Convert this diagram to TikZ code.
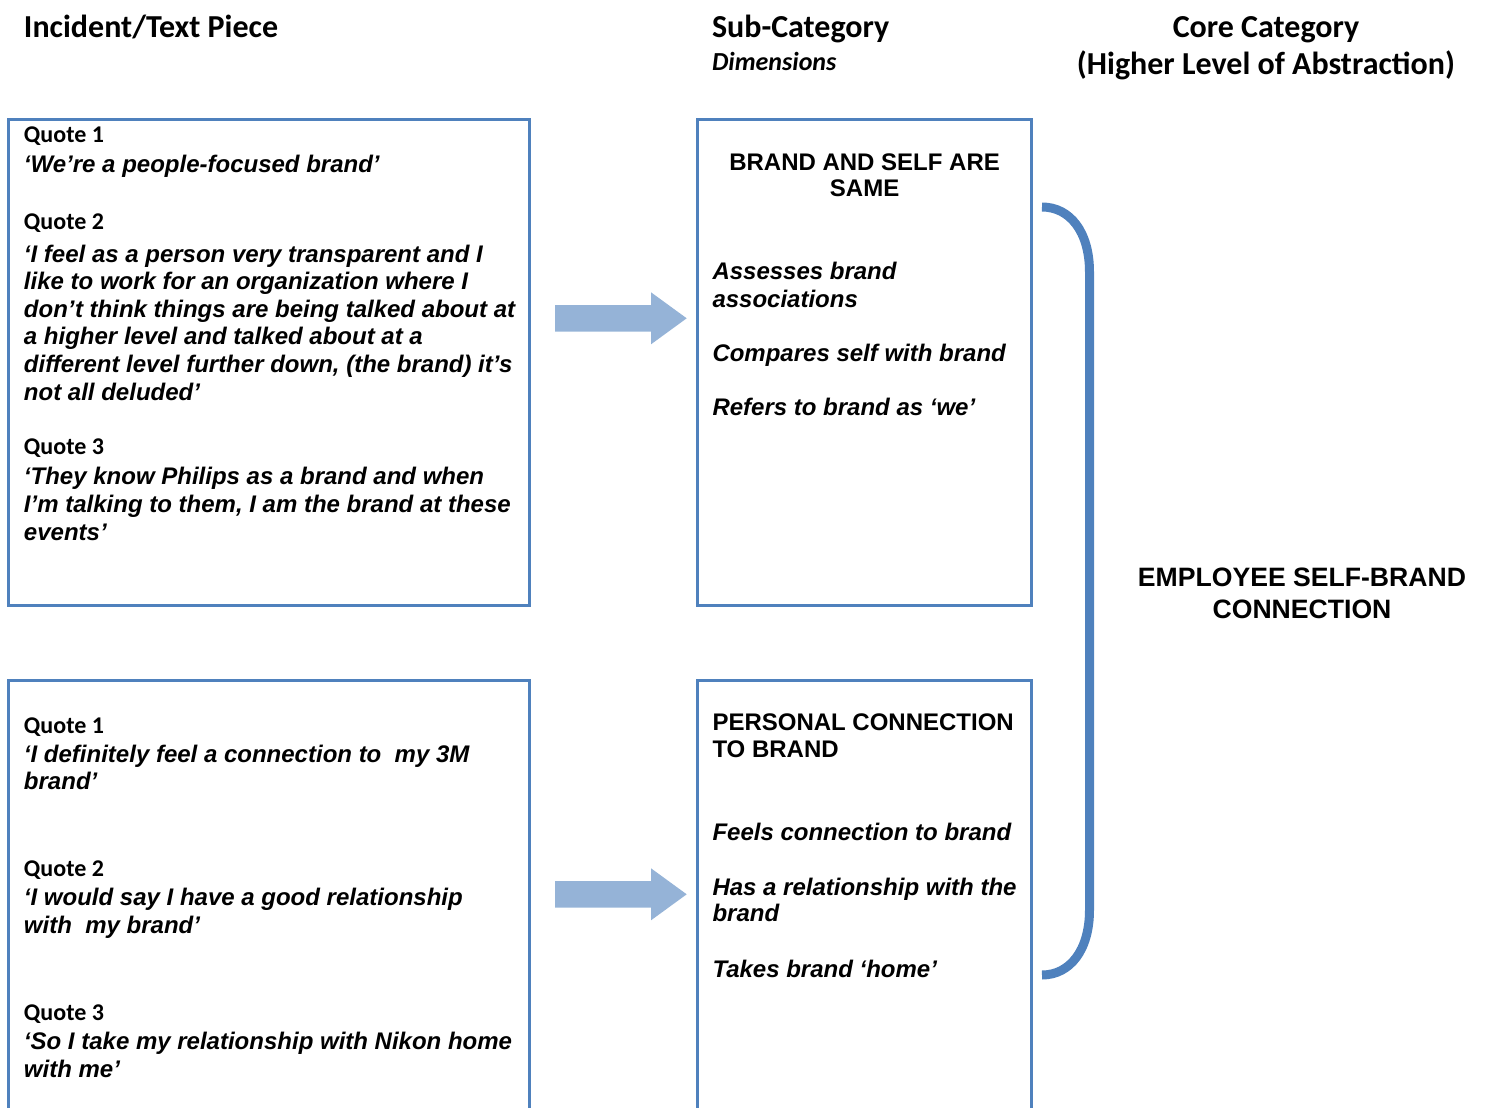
\documentclass[tikz,border=0pt]{standalone}
\usepackage{fontspec}
\setmainfont{Liberation Sans}
\newfontfamily\calibri{Carlito}
\definecolor{frameblue}{HTML}{4F81BD}
\definecolor{arrowblue}{HTML}{95B3D7}
\begin{document}
\begin{tikzpicture}[x=0.5pt,y=-0.5pt,
  every node/.style={inner sep=0pt,outer sep=0pt},
  colhead/.style={font=\calibri\bfseries\fontsize{16}{18}\selectfont},
  subhead/.style={font=\calibri\bfseries\itshape\fontsize{13}{15}\selectfont},
  qlabel/.style={anchor=base west,font=\calibri\bfseries\fontsize{12}{14}\selectfont},
  qtext/.style={anchor=base west,font=\bfseries\itshape\fontsize{12}{14}\selectfont},
  caps/.style={font=\bfseries\fontsize{12}{14}\selectfont},
  corelabel/.style={anchor=base,font=\bfseries\fontsize{13.3}{15}\selectfont},
  frame/.style={draw=frameblue,line width=1.5pt},
  blockarrow/.style={fill=arrowblue},
  bracket/.style={draw=frameblue,line width=4.5pt}]
\useasboundingbox (0,0) rectangle (1485,1108);

% column headings
\node[colhead,anchor=base west] (h1) at (24,37) {Incident/Text Piece};
\node[colhead,anchor=base west] (h2) at (712,37) {Sub-Category};
\node[subhead,anchor=base west] (h2b) at (712,70.7) {Dimensions};
\node[colhead,anchor=base] (h3) at (1266,37) {Core Category};
\node[colhead,anchor=base] (h3b) at (1266,75) {(Higher Level of Abstraction)};

% frames
\draw[frame] (8.7,119) rectangle (529.5,605);
\draw[frame] (697.7,119) rectangle (1031.5,605);
\draw[frame] (8.7,1108) -- (8.7,680) -- (529.5,680) -- (529.5,1108);
\draw[frame] (697.7,1108) -- (697.7,680) -- (1031.5,680) -- (1031.5,1108);

% upper quotes
\node[qlabel] (a1) at (24,142.3) {Quote 1};
\node[qtext] (a1t1) at (24,172.7) {‘We’re a people-focused brand’};
\node[qlabel] (a2) at (24,229.5) {Quote 2};
\node[qtext] (a2t1) at (24,262) {‘I feel as a person very transparent and I};
\node[qtext] (a2t2) at (24,289.6) {like to work for an organization where I};
\node[qtext] (a2t3) at (24,317.2) {don’t think things are being talked about at};
\node[qtext] (a2t4) at (24,344.8) {a higher level and talked about at a};
\node[qtext] (a2t5) at (24,372.4) {different level further down, (the brand) it’s};
\node[qtext] (a2t6) at (24,400) {not all deluded’};
\node[qlabel] (a3) at (24,454) {Quote 3};
\node[qtext] (a3t1) at (24,484.5) {‘They know Philips as a brand and when};
\node[qtext] (a3t2) at (24,512.5) {I’m talking to them, I am the brand at these};
\node[qtext] (a3t3) at (24,540) {events’};

% upper sub-category
\node[caps,anchor=base] (b1a) at (864.6,170) {BRAND AND SELF ARE};
\node[caps,anchor=base] (b1b) at (864.6,196.5) {SAME};
\node[qtext] (b2a) at (712.5,279.3) {Assesses brand};
\node[qtext] (b2b) at (712.5,307.3) {associations};
\node[qtext] (b3) at (712.5,361.7) {Compares self with brand};
\node[qtext] (b4) at (712.5,415.7) {Refers to brand as ‘we’};

% lower quotes
\node[qlabel] (c1) at (24,733.3) {Quote 1};
\node[qtext] (c1t1) at (24,762.3) {‘I definitely feel a connection to\ \ my 3M};
\node[qtext] (c1t2) at (24,789.3) {brand’};
\node[qlabel] (c2) at (24,876) {Quote 2};
\node[qtext] (c2t1) at (24,905.5) {‘I would say I have a good relationship};
\node[qtext] (c2t2) at (24,933) {with\ \ my brand’};
\node[qlabel] (c3) at (24,1020.7) {Quote 3};
\node[qtext] (c3t1) at (24,1049.3) {‘So I take my relationship with Nikon home};
\node[qtext] (c3t2) at (24,1077) {with me’};

% lower sub-category
\node[caps,anchor=base west] (d1a) at (712.5,730.7) {PERSONAL CONNECTION};
\node[caps,anchor=base west] (d1b) at (712.5,757.3) {TO BRAND};
\node[qtext] (d2) at (712.5,840) {Feels connection to brand};
\node[qtext] (d3a) at (712.5,895) {Has a relationship with the};
\node[qtext] (d3b) at (712.5,921.7) {brand};
\node[qtext] (d4) at (712.5,977.3) {Takes brand ‘home’};

% block arrows
\coordinate (arr1) at (555,318.3);
\coordinate (arr2) at (555,894.3);
\foreach \a in {arr1,arr2}{
  \fill[blockarrow] (\a) ++(0,-13.2) -- ++(96,0) -- ++(0,-12.8)
    -- ++(35.7,26) -- ++(-35.7,26) -- ++(0,-12.8) -- ++(-96,0) -- cycle;
}

% bracket
\coordinate (brtop) at (1042,207);
\coordinate (brbot) at (1042,975);
\draw[bracket] (brtop) .. controls (1070,207) and (1089.5,232) .. (1089.5,272)
  -- (1089.5,910) .. controls (1089.5,950) and (1070,975) .. (brbot);

% core category
\node[corelabel] (e1) at (1302,586) {EMPLOYEE SELF-BRAND};
\node[corelabel] (e2) at (1302,618) {CONNECTION};
\end{tikzpicture}
\end{document}
